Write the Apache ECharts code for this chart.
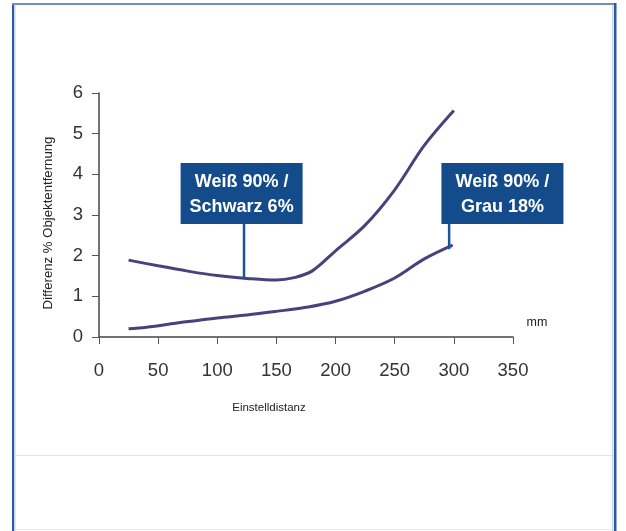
<!DOCTYPE html>
<html>
<head>
<meta charset="utf-8">
<script src="https://cdn.jsdelivr.net/npm/echarts@6/dist/echarts.min.js"></script>
<style>
html,body{margin:0;padding:0;background:#fff;}
#chart{width:626px;height:531px;}
</style>
</head>
<body>
<div id="chart"></div>
<script>
// ---- data ----
const xTicks = [0, 50, 100, 150, 200, 250, 300, 350];
const yTicks = [0, 1, 2, 3, 4, 5, 6];
const schwarzData = [[25,1.89],[50,1.75],[75,1.62],[100,1.51],[125,1.44],[150,1.40],[165,1.46],[180,1.62],[200,2.12],[225,2.75],[250,3.62],[275,4.71],[300,5.57]];
const grauData = [[25,0.20],[40,0.24],[70,0.36],[100,0.47],[125,0.54],[150,0.63],[175,0.73],[200,0.88],[225,1.13],[250,1.45],[275,1.92],[299,2.26]];
const annoLabels = ["Weiß 90% /\nSchwarz 6%", "Weiß 90% /\nGrau 18%"];
const annoAnchorX = [122.6, 296];
const annoAnchorY = [1.44, 2.16];
const annoBoxLeftX = [69, 289.5];
const annoBoxTopY = [4.28, 4.28];
const yAxisTitle = "Differenz % Objektentfernung";
const xAxisTitle = "Einstelldistanz";
const xUnit = "mm";

const annoData = annoLabels.map((t, i) => [annoAnchorX[i], annoAnchorY[i], annoBoxLeftX[i], annoBoxTopY[i], t]);

const chart = echarts.init(document.getElementById('chart'), null, {renderer: 'canvas'});
const font = '"Liberation Sans", Arial, sans-serif';
const lineColor = '#46427c';
const boxColor = '#144b8b';

chart.setOption({
  animation: false,
  backgroundColor: '#fff',
  grid: {left: 99, right: 113, top: 93, bottom: 194, containLabel: false},
  xAxis: {
    type: 'value', min: xTicks[0], max: xTicks[xTicks.length - 1], interval: 50,
    axisLine: {onZero: false, lineStyle: {color: '#444', width: 1.5}},
    axisTick: {show: true, length: 7, inside: false, lineStyle: {color: '#555', width: 1}},
    axisLabel: {color: '#333', fontSize: 18.5, fontFamily: font, margin: 24},
    splitLine: {show: false}
  },
  yAxis: {
    type: 'value', min: yTicks[0], max: yTicks[yTicks.length - 1], interval: 1,
    axisLine: {show: true, lineStyle: {color: '#444', width: 1.5}},
    axisTick: {show: true, length: 7, lineStyle: {color: '#555', width: 1}},
    axisLabel: {color: '#333', fontSize: 18.5, fontFamily: font, margin: 16},
    splitLine: {show: false}
  },
  graphic: [
    {type: 'rect', shape: {x: 12, y: 3, width: 2, height: 528}, style: {fill: '#2c5b9c'}, z: 100},
    {type: 'rect', shape: {x: 14, y: 5, width: 1.5, height: 526}, style: {fill: '#c7d4ea'}, z: 100},
    {type: 'rect', shape: {x: 12, y: 3, width: 604, height: 2}, style: {fill: '#6f8ec3'}, z: 100},
    {type: 'rect', shape: {x: 614, y: 3, width: 2.5, height: 528}, style: {fill: '#2c5b9c'}, z: 100},
    {type: 'rect', shape: {x: 612, y: 5, width: 1.5, height: 526}, style: {fill: '#c7d4ea'}, z: 100},
    {type: 'rect', shape: {x: 15, y: 455, width: 597, height: 1}, style: {fill: '#dde2ea'}, z: 100},
    {type: 'rect', shape: {x: 15, y: 529, width: 597, height: 1}, style: {fill: '#e6e9ee'}, z: 100},
    {type: 'text', x: 48, y: 223, rotation: Math.PI / 2,
     style: {text: yAxisTitle, fill: '#222', font: '13.2px ' + font, align: 'center', verticalAlign: 'middle'}},
    {type: 'text', x: 269, y: 408,
     style: {text: xAxisTitle, fill: '#222', font: '11.5px ' + font, align: 'center', verticalAlign: 'middle'}},
    {type: 'text', x: 537, y: 323,
     style: {text: xUnit, fill: '#222', font: '12.5px ' + font, align: 'center', verticalAlign: 'middle'}}
  ],
  series: [
    {type: 'line', name: 'Weiß 90% / Schwarz 6%', data: schwarzData, smooth: 0.35, showSymbol: false,
     lineStyle: {color: lineColor, width: 3}, z: 3},
    {type: 'line', name: 'Weiß 90% / Grau 18%', data: grauData, smooth: 0.35, showSymbol: false,
     lineStyle: {color: lineColor, width: 3}, z: 3},
    {type: 'custom', data: annoData, z: 10, clip: false,
     renderItem: function (params, api) {
       const a = api.coord([api.value(0), api.value(1)]);
       const b = api.coord([api.value(2), api.value(3)]);
       const w = 122, h = 61;
       const text = annoData[params.dataIndex][4];
       return {
         type: 'group',
         children: [
           {type: 'line', shape: {x1: a[0], y1: a[1], x2: a[0], y2: b[1] + h},
            style: {stroke: '#1b5596', lineWidth: 2.5}},
           {type: 'rect', shape: {x: b[0], y: b[1], width: w, height: h},
            style: {fill: boxColor}},
           {type: 'text', x: b[0] + w / 2, y: b[1] + h / 2 + 1,
            style: {text: text, fill: '#fff', font: 'bold 18px ' + font, align: 'center',
                    verticalAlign: 'middle', lineHeight: 25}}
         ]
       };
     }}
  ]
});
</script>
</body>
</html>
